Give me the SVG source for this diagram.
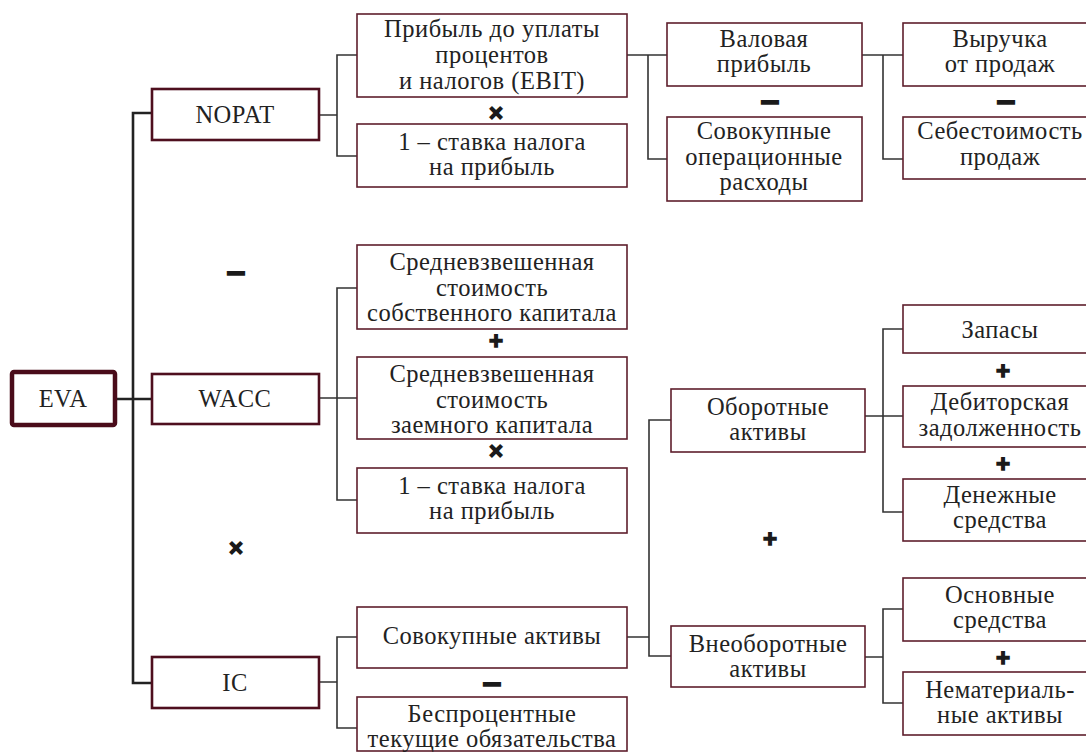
<svg xmlns="http://www.w3.org/2000/svg" width="1086" height="753" viewBox="0 0 1086 753">
<style>
.b{fill:#fff;stroke:#5e1f2c;stroke-width:1.6}
.m{fill:#fff;stroke:#4e0f1e;stroke-width:2.6}
.r{fill:#fff;stroke:#4a0c1a;stroke-width:4.5}
.o{font-weight:bold;fill:#1a1a1a;stroke:#1a1a1a;stroke-width:1.4;text-anchor:middle;dominant-baseline:central}
.p{font-size:24px}
.d{font-size:34px}
.c{fill:none;stroke:#333;stroke-width:1.6}
.k{fill:none;stroke:#222;stroke-width:2.6}
</style>
<rect width="1086" height="753" fill="#fff"/>
<g id="connectors">
<path class="k" d="M152,113H133V683H152M115,399H152"/>
<path class="c" d="M319,115H337M357,55H337V156H357"/>
<path class="c" d="M627,55H667M648,55V159H667"/>
<path class="c" d="M862,55H903M883,55V159H903"/>
<path class="c" d="M319,398H337M357,288H337V500H357M337,398H357"/>
<path class="c" d="M627,637H649M671,420H649V656H671"/>
<path class="c" d="M865,416H903M903,329H883V512H903"/>
<path class="c" d="M865,657H883M903,609H883V703H903"/>
<path class="c" d="M319,682H337M357,637H337V728H357"/>
</g>
<g font-family="Liberation Serif, DejaVu Serif, serif" font-size="24.5" letter-spacing="0.5" fill="#222" text-anchor="middle">
<g id="eva"><rect class="r" x="12" y="372" width="103" height="53" rx="2"/><text x="63" y="407">EVA</text></g>
<g id="nopat"><rect class="m" x="152" y="89" width="167" height="51"/><text x="235" y="123">NOPAT</text></g>
<g id="wacc"><rect class="m" x="152" y="374" width="167" height="50"/><text x="235" y="407">WACC</text></g>
<g id="ic"><rect class="m" x="152" y="657" width="167" height="51"/><text x="235" y="691">IC</text></g>
<g id="ebit"><rect class="b" x="357" y="14" width="270" height="83"/><text x="492" y="37">Прибыль до уплаты</text><text x="492" y="63">процентов</text><text x="492" y="89">и налогов (EBIT)</text></g>
<g id="tax1"><rect class="b" x="357" y="124" width="270" height="63"/><text x="492" y="150">1 – ставка налога</text><text x="492" y="175">на прибыль</text></g>
<g id="gross"><rect class="b" x="667" y="23" width="195" height="63"/><text x="764" y="47">Валовая</text><text x="764" y="72">прибыль</text></g>
<g id="opex"><rect class="b" x="667" y="117" width="195" height="84"/><text x="764" y="139">Совокупные</text><text x="764" y="165">операционные</text><text x="764" y="190">расходы</text></g>
<g id="revenue"><rect class="b" x="903" y="23" width="200" height="63"/><text x="1000" y="47">Выручка</text><text x="1000" y="72">от продаж</text></g>
<g id="cogs"><rect class="b" x="903" y="117" width="200" height="62"/><text x="1000" y="139">Себестоимость</text><text x="1000" y="165">продаж</text></g>
<g id="equity"><rect class="b" x="357" y="245" width="270" height="84"/><text x="492" y="270">Средневзвешенная</text><text x="492" y="296">стоимость</text><text x="492" y="321">собственного капитала</text></g>
<g id="debt"><rect class="b" x="357" y="357" width="270" height="82"/><text x="492" y="382">Средневзвешенная</text><text x="492" y="408">стоимость</text><text x="492" y="433">заемного капитала</text></g>
<g id="tax2"><rect class="b" x="357" y="468" width="270" height="65"/><text x="492" y="494">1 – ставка налога</text><text x="492" y="519">на прибыль</text></g>
<g id="current"><rect class="b" x="671" y="389" width="194" height="63"/><text x="768" y="415">Оборотные</text><text x="768" y="440">активы</text></g>
<g id="stock"><rect class="b" x="903" y="305" width="200" height="48"/><text x="1000" y="338">Запасы</text></g>
<g id="receivables"><rect class="b" x="903" y="386" width="200" height="61"/><text x="1000" y="410">Дебиторская</text><text x="1000" y="436">задолженность</text></g>
<g id="cash"><rect class="b" x="903" y="479" width="200" height="62"/><text x="1000" y="503">Денежные</text><text x="1000" y="528">средства</text></g>
<g id="totalassets"><rect class="b" x="357" y="607" width="270" height="61"/><text x="492" y="644">Совокупные активы</text></g>
<g id="liabilities"><rect class="b" x="357" y="697" width="270" height="54"/><text x="492" y="722">Беспроцентные</text><text x="492" y="747">текущие обязательства</text></g>
<g id="noncurrent"><rect class="b" x="671" y="626" width="194" height="61"/><text x="768" y="652">Внеоборотные</text><text x="768" y="677">активы</text></g>
<g id="fixed"><rect class="b" x="903" y="578" width="200" height="63"/><text x="1000" y="603">Основные</text><text x="1000" y="628">средства</text></g>
<g id="intangible"><rect class="b" x="903" y="672" width="200" height="63"/><text x="1000" y="698">Нематериаль-</text><text x="1000" y="723">ные активы</text></g>
</g>
<g id="operators" font-family="Liberation Sans, DejaVu Sans, sans-serif">
<text class="o d" x="236" y="270">–</text>
<text class="o p" x="236" y="547">×</text>
<text class="o p" x="496" y="112">×</text>
<text class="o p" x="496" y="340">+</text>
<text class="o p" x="496" y="450">×</text>
<text class="o d" x="492" y="681">–</text>
<text class="o d" x="770" y="99">–</text>
<text class="o d" x="1006" y="99">–</text>
<text class="o p" x="1003" y="370">+</text>
<text class="o p" x="1003" y="463">+</text>
<text class="o p" x="770" y="538">+</text>
<text class="o p" x="1003" y="657">+</text>
</g>
</svg>
